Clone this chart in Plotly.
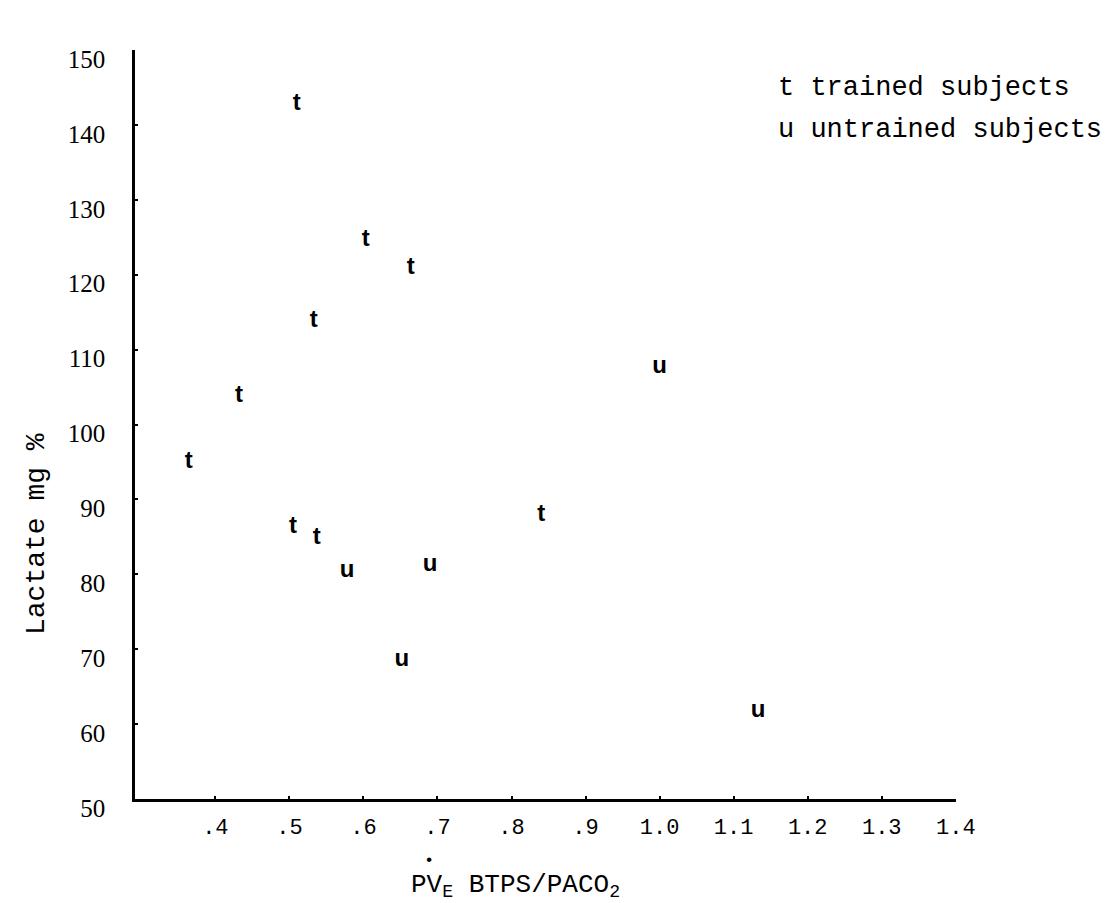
import plotly.graph_objects as go

# ---- data ----
trained_x = [0.510, 0.603, 0.664, 0.533, 0.432, 0.364, 0.840, 0.505, 0.537]
trained_y = [142.8, 124.7, 120.9, 113.8, 103.8, 95.0, 87.9, 86.3, 84.9]
untrained_x = [0.578, 0.690, 0.652, 1.000, 1.133]
untrained_y = [80.4, 81.3, 68.6, 107.7, 61.7]

x_tickvals = [0.4, 0.5, 0.6, 0.7, 0.8, 0.9, 1.0, 1.1, 1.2, 1.3, 1.4]
x_ticktext = [".4", ".5", ".6", ".7", ".8", ".9", "1.0", "1.1", "1.2", "1.3", "1.4"]
y_tickvals = [50, 60, 70, 80, 90, 100, 110, 120, 130, 140, 150]
y_ticktext = ["50", "60", "70", "80", "90", "100", "110", "120", "130", "140", "150"]

legend_symbols = ["t", "u"]
legend_labels = ["trained subjects", "untrained subjects"]

x_title = "PV<sub>E</sub> BTPS/PACO<sub>2</sub>"
y_title = "Lactate mg %"

MONO = "Liberation Mono, Courier New, monospace"
SERIF = "Liberation Serif, Times New Roman, serif"
MARK = "Liberation Sans, Arial, sans-serif"

# plot-area geometry (pixels)
L, R, T, B = 127, 167, 42, 112
W, H = 1115, 903
PW, PH = W - L - R, H - T - B

fig = go.Figure()
fig.add_trace(go.Scatter(
    x=trained_x, y=trained_y, mode="text", text=["t"] * len(trained_x),
    textposition="middle center",
    textfont=dict(family=MARK, size=24, color="black", weight="bold"),
    name=legend_labels[0], showlegend=False, hoverinfo="x+y"))
fig.add_trace(go.Scatter(
    x=untrained_x, y=untrained_y, mode="text", text=["u"] * len(untrained_x),
    textposition="middle center",
    textfont=dict(family=MARK, size=24, color="black", weight="bold"),
    name=legend_labels[1], showlegend=False, hoverinfo="x+y"))

# legend written as typed text
for i, (s, lab) in enumerate(zip(legend_symbols, legend_labels)):
    fig.add_annotation(
        xref="paper", yref="paper", x=(769 - L) / PW, y=1 - (80 + i * 42 - T) / PH,
        xanchor="left", yanchor="middle", showarrow=False, borderpad=0,
        text=f"{s}&nbsp;{lab}",
        font=dict(family=MONO, size=27, color="black"))

# x-axis title with dot over V
fig.add_annotation(
    xref="paper", yref="paper", x=(507 - L) / PW, y=0, yshift=-87,
    xanchor="center", yanchor="middle", showarrow=False,
    text=x_title, font=dict(family=MONO, size=26, color="black"))
fig.add_annotation(
    xref="paper", yref="paper", x=(421 - L) / PW, y=0, yshift=-61,
    xanchor="center", yanchor="middle", showarrow=False,
    text="•", font=dict(family=MONO, size=17, color="black"))

# y-axis title
fig.add_annotation(
    xref="paper", yref="paper", x=(28 - L) / PW, y=(H - B - 526) / PH,
    xanchor="center", yanchor="middle", showarrow=False, textangle=-90,
    text=y_title, font=dict(family=MONO, size=28, color="black"))

fig.update_layout(
    width=W, height=H,
    margin=dict(l=L, r=R, t=T, b=B),
    paper_bgcolor="white", plot_bgcolor="white",
    showlegend=False,
)
fig.update_xaxes(
    range=[0.2915, 1.4003], tickvals=x_tickvals, ticktext=x_ticktext,
    showline=True, linecolor="black", linewidth=2.5, mirror=False,
    showgrid=False, zeroline=False,
    ticks="inside", ticklen=3, tickwidth=1.5, tickcolor="black",
    ticklabelstandoff=6,
    tickfont=dict(family=MONO, size=22, color="black"))
fig.update_yaxes(
    range=[50, 150], tickvals=y_tickvals, ticktext=y_ticktext,
    showline=True, linecolor="black", linewidth=2.5, mirror=False,
    showgrid=False, zeroline=False,
    ticks="inside", ticklen=3, tickwidth=1.5, tickcolor="black",
    ticklabelstandoff=22, ticklabelshift=9,
    tickfont=dict(family=SERIF, size=25, color="black"))

fig.write_html("out.html")
